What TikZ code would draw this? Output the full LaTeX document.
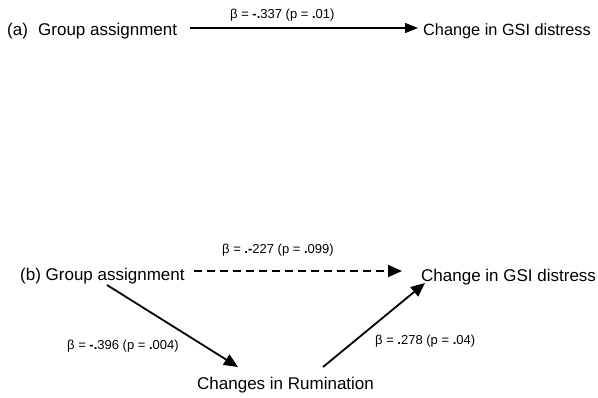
\documentclass[tikz,border=0pt]{standalone}
\usepackage{fontspec}
\setmainfont{Liberation Sans}
\usetikzlibrary{arrows.meta,calc}
\begin{document}
\begin{tikzpicture}[x=1pt,y=-1pt,
  term/.style={inner sep=0pt, font=\fontsize{17}{20}\selectfont, anchor=base west},
  coef/.style={inner sep=0pt, font=\fontsize{13}{15}\selectfont, anchor=base west},
  thinarrow/.style={line width=1.2pt, -{Triangle[length=13pt,width=10pt]}},
  thickarrow/.style={line width=1.8pt, -{Triangle[length=14pt,width=12pt]}},
  dasharrow/.style={thickarrow, dash pattern=on 8pt off 5pt}]
\useasboundingbox (0,0) rectangle (598,398);
% panel (a)
\node[term] (ga1) at (7,36) {(a)\hspace{0.6em}Group assignment};
\node[term, font=\fontsize{16.3}{19}\selectfont] (gsi1) at (423,36) {Change in GSI distress};
\node[coef] (ca) at (230,19) {β = \textbf{-.}337 (p = \textbf{.}01)};
\coordinate (a1) at ($(ga1.base east)+(13,-8)$);
\coordinate (a2) at ($(gsi1.base west)+(-5,-8)$);
\draw[thinarrow] (a1) -- (a2);
% panel (b)
\node[term] (ga2) at (20,281) {(b) Group assignment};
\node[term] (gsi2) at (421,282) {Change in GSI distress};
\node[term] (rum) at (197,390) {Changes in Rumination};
\node[coef] (cb) at (222,254) {β = \textbf{.-}227 (p = \textbf{.}099)};
\node[coef] (cc) at (67,350) {β = \textbf{-.}396 (p = \textbf{.}004)};
\node[coef] (cd) at (375,345) {β = \textbf{.}278 (p = \textbf{.}04)};
\coordinate (b1) at ($(ga2.base east)+(9,-10)$);
\coordinate (b2) at ($(gsi2.base west)+(-19,-11)$);
\draw[dasharrow] (b1) -- (b2);
\coordinate (c1) at ($(ga2.base west)+(87,4)$);
\coordinate (c2) at ($(rum.base west)+(41,-23)$);
\draw[thickarrow] (c1) -- (c2);
\coordinate (d1) at ($(rum.base west)+(126,-23)$);
\coordinate (d2) at ($(gsi2.base west)+(4,1)$);
\draw[thickarrow] (d1) -- (d2);
\end{tikzpicture}
\end{document}
